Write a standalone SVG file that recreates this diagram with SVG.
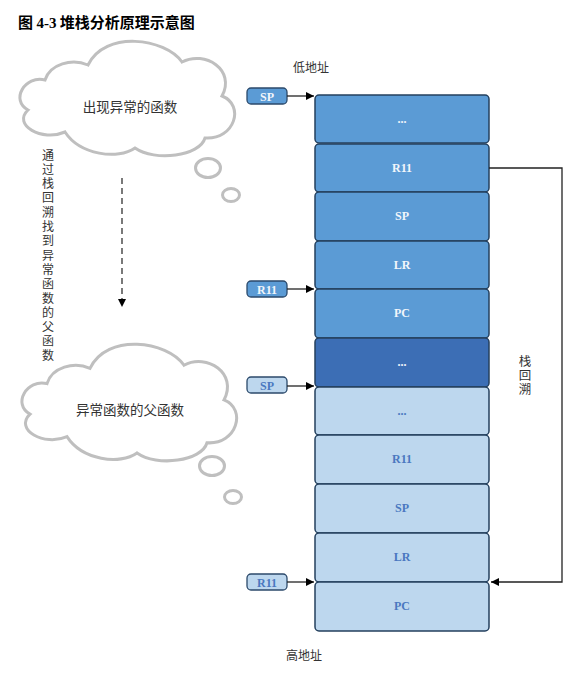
<svg xmlns="http://www.w3.org/2000/svg" width="580" height="679" viewBox="0 0 580 679">
<style>
.cloud{fill:#fff;stroke:#bfbfbf;stroke-width:3}
.cj{font-family:"Noto Sans CJK SC","Noto Sans",sans-serif;fill:#333}
.vt{writing-mode:vertical-rl;glyph-orientation-vertical:0}
.box{stroke:#24405e;stroke-width:1.5}
.mid{fill:#5b9bd5}
.dk{fill:#3c6eb5}
.lt{fill:#bdd7ee}
.bt{font-family:"Liberation Serif",serif;font-weight:bold;font-size:12px;text-anchor:middle}
.bw{fill:#f2f6fb}
.bb{fill:#4a78c0}
.badge{stroke:#2c4a6b;stroke-width:1.3}
.conn{stroke:#222;stroke-width:1.3;fill:none}
</style>
<defs>
<marker id="ah" viewBox="0 0 10 10" refX="10" refY="5" markerWidth="8" markerHeight="8" orient="auto" markerUnits="userSpaceOnUse">
<path d="M0,0 L10,5 L0,10 z" fill="#000"/>
</marker>
<path id="cloudp" d="M45 80 C25 75,10 100,28 110 C12 125,42 142,65 132 C80 155,118 160,135 148 C155 162,200 156,205 138 C235 140,245 105,222 96 C236 70,205 50,182 62 C165 38,105 30,88 65 C72 58,50 64,45 80 Z"/>
</defs>
<text x="18" y="28" font-family="'Noto Sans CJK SC',sans-serif" font-weight="bold" font-size="15" fill="#000">图 <tspan font-family="'Liberation Serif',serif">4-3</tspan> 堆栈分析原理示意图</text>

<g id="cloud1">
<use href="#cloudp" class="cloud"/>
<ellipse cx="208" cy="168" rx="12.5" ry="9.5" class="cloud" stroke-width="2.5"/>
<ellipse cx="231" cy="195" rx="8.5" ry="6.5" class="cloud" stroke-width="2.5"/>
<text x="130" y="112" class="cj" font-size="13.5" text-anchor="middle">出现异常的函数</text>
</g>
<g id="cloud2">
<use href="#cloudp" class="cloud" transform="translate(2,302) scale(1,1.02)"/>
<ellipse cx="212" cy="466" rx="12.5" ry="9.5" class="cloud" stroke-width="2.5"/>
<ellipse cx="233" cy="497" rx="8.5" ry="6.5" class="cloud" stroke-width="2.5"/>
<text x="130" y="415" class="cj" font-size="13.5" text-anchor="middle">异常函数的父函数</text>
</g>

<g id="sidetext">
<text x="48" y="149" class="cj vt" font-size="12" letter-spacing="2.3">通过栈回溯找到异常函数的父函数</text>
</g>

<text x="311" y="72" class="cj" font-size="12" text-anchor="middle">低地址</text>
<text x="304" y="660" class="cj" font-size="12" text-anchor="middle">高地址</text>

<g id="stack">
<g id="b1"><rect x="315" y="95" width="174" height="48" rx="4" class="box mid"/><text x="402" y="123" class="bt bw">...</text></g>
<g id="b2"><rect x="315" y="144" width="174" height="48" rx="4" class="box mid"/><text x="402" y="172" class="bt bw">R11</text></g>
<g id="b3"><rect x="315" y="192" width="174" height="49" rx="4" class="box mid"/><text x="402" y="220" class="bt bw">SP</text></g>
<g id="b4"><rect x="315" y="241" width="174" height="48" rx="4" class="box mid"/><text x="402" y="269" class="bt bw">LR</text></g>
<g id="b5"><rect x="315" y="289" width="174" height="49" rx="4" class="box mid"/><text x="402" y="317" class="bt bw">PC</text></g>
<g id="b6"><rect x="315" y="338" width="174" height="49" rx="4" class="box dk"/><text x="402" y="366" class="bt bw">...</text></g>
<g id="b7"><rect x="315" y="387" width="174" height="48" rx="4" class="box lt"/><text x="402" y="415" class="bt bb">...</text></g>
<g id="b8"><rect x="315" y="435" width="174" height="49" rx="4" class="box lt"/><text x="402" y="463" class="bt bb">R11</text></g>
<g id="b9"><rect x="315" y="484" width="174" height="49" rx="4" class="box lt"/><text x="402" y="512" class="bt bb">SP</text></g>
<g id="b10"><rect x="315" y="533" width="174" height="49" rx="4" class="box lt"/><text x="402" y="561" class="bt bb">LR</text></g>
<g id="b11"><rect x="315" y="582" width="174" height="49" rx="4" class="box lt"/><text x="402" y="610" class="bt bb">PC</text></g>
</g>

<g id="badges">
<g id="sp1"><rect x="247" y="88" width="40" height="16" rx="4" class="badge mid"/><text x="267" y="100.5" class="bt bw">SP</text></g>
<g id="r11a"><rect x="247" y="281" width="40" height="16" rx="4" class="badge mid"/><text x="267" y="293.5" class="bt bw">R11</text></g>
<g id="sp2"><rect x="247" y="377" width="40" height="16" rx="4" class="badge lt"/><text x="267" y="389.5" class="bt bb">SP</text></g>
<g id="r11b"><rect x="247" y="574" width="40" height="16" rx="4" class="badge lt"/><text x="267" y="586.5" class="bt bb">R11</text></g>
</g>

<g id="connectors">
<line x1="287" y1="96" x2="314" y2="96" class="conn" marker-end="url(#ah)"/>
<line x1="287" y1="289" x2="314" y2="289" class="conn" marker-end="url(#ah)"/>
<line x1="287" y1="386" x2="314" y2="386" class="conn" marker-end="url(#ah)"/>
<line x1="287" y1="582" x2="314" y2="582" class="conn" marker-end="url(#ah)"/>
<polyline points="489,168 562,168 562,582 491,582" class="conn" stroke="#444" marker-end="url(#ah)"/>
<line x1="122" y1="178" x2="122" y2="307" stroke="#333" stroke-width="1.3" stroke-dasharray="6,4" marker-end="url(#ah)"/>
</g>

<text x="525" y="355" class="cj vt" font-size="12.5" letter-spacing="1.5">栈回溯</text>
</svg>
